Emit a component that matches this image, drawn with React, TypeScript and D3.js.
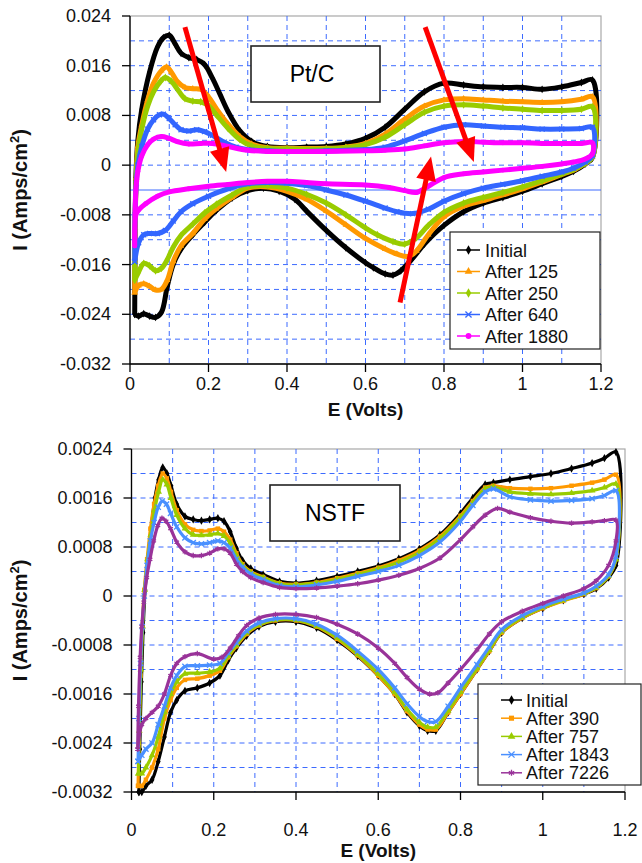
import React from "react";
import * as d3 from "d3";

type Pt = [number, number];

// ---------- Pt/C (top) data : [E (V), I (A/cm2)] ----------
const ptcInitialUp: Pt[] = [[0.012,-0.024],[0.013,-0.012],[0.015,-0.002],[0.02,0.004],[0.03,0.009],[0.05,0.015],[0.07,0.019],[0.085,0.0205],[0.1,0.0209],[0.115,0.0195],[0.13,0.018],[0.15,0.0173],[0.17,0.017],[0.19,0.0162],[0.21,0.014],[0.23,0.0113],[0.25,0.0086],[0.28,0.0055],[0.31,0.0038],[0.35,0.003],[0.4,0.0028],[0.45,0.0029],[0.5,0.003],[0.55,0.0034],[0.6,0.0043],[0.65,0.0061],[0.7,0.009],[0.75,0.0118],[0.8,0.0132],[0.85,0.0129],[0.9,0.0126],[0.95,0.0125],[1.0,0.0125],[1.05,0.0122],[1.1,0.0126],[1.15,0.0133],[1.178,0.0137]];
const ptcInitialDown: Pt[] = [[1.178,0.0012],[1.16,0.0002],[1.13,-0.001],[1.1,-0.0018],[1.05,-0.003],[1.0,-0.0042],[0.95,-0.0052],[0.9,-0.0061],[0.85,-0.0075],[0.8,-0.0097],[0.75,-0.0127],[0.72,-0.015],[0.69,-0.017],[0.67,-0.0177],[0.65,-0.0175],[0.62,-0.0165],[0.6,-0.0157],[0.55,-0.0133],[0.5,-0.0105],[0.45,-0.0074],[0.42,-0.0055],[0.38,-0.0042],[0.34,-0.0037],[0.3,-0.0041],[0.26,-0.0053],[0.22,-0.0073],[0.19,-0.0092],[0.16,-0.0112],[0.13,-0.0135],[0.11,-0.016],[0.095,-0.0195],[0.08,-0.0237],[0.065,-0.0245],[0.05,-0.0243],[0.035,-0.0239],[0.022,-0.0243],[0.012,-0.024]];
const ptc125Up: Pt[] = [[0.012,-0.0205],[0.013,-0.01],[0.016,-0.002],[0.02,0.003],[0.03,0.0065],[0.045,0.0105],[0.06,0.0132],[0.08,0.0152],[0.093,0.0158],[0.105,0.015],[0.12,0.0135],[0.14,0.0125],[0.16,0.0123],[0.18,0.0122],[0.2,0.011],[0.22,0.0091],[0.25,0.0066],[0.28,0.0046],[0.31,0.0034],[0.35,0.0028],[0.4,0.0027],[0.5,0.0027],[0.55,0.0029],[0.6,0.0035],[0.65,0.005],[0.7,0.0074],[0.75,0.0095],[0.8,0.0105],[0.85,0.0107],[0.9,0.0105],[0.95,0.0103],[1.0,0.0102],[1.05,0.0101],[1.1,0.0102],[1.15,0.0106],[1.178,0.011]];
const ptc125Down: Pt[] = [[1.178,0.0013],[1.16,0.0003],[1.13,-0.0008],[1.1,-0.0015],[1.05,-0.0027],[1.0,-0.0038],[0.95,-0.0048],[0.9,-0.0057],[0.85,-0.0066],[0.8,-0.0083],[0.76,-0.0112],[0.73,-0.0138],[0.71,-0.0147],[0.68,-0.0143],[0.65,-0.0135],[0.6,-0.0118],[0.55,-0.0096],[0.5,-0.0074],[0.45,-0.0055],[0.4,-0.0042],[0.35,-0.0035],[0.3,-0.0037],[0.26,-0.0052],[0.22,-0.007],[0.19,-0.0087],[0.16,-0.011],[0.13,-0.013],[0.11,-0.0155],[0.095,-0.0185],[0.08,-0.02],[0.065,-0.0201],[0.05,-0.0195],[0.035,-0.0191],[0.022,-0.0194],[0.012,-0.0205]];
const ptc250Up: Pt[] = [[0.012,-0.0185],[0.013,-0.009],[0.016,-0.002],[0.02,0.002],[0.03,0.0058],[0.045,0.0095],[0.06,0.0118],[0.078,0.0135],[0.09,0.0141],[0.105,0.0135],[0.12,0.0123],[0.14,0.0107],[0.16,0.0103],[0.18,0.0102],[0.2,0.0096],[0.22,0.0081],[0.25,0.0059],[0.28,0.0041],[0.31,0.0031],[0.35,0.0027],[0.4,0.0026],[0.5,0.0026],[0.55,0.0028],[0.6,0.0033],[0.65,0.0045],[0.7,0.0065],[0.75,0.0085],[0.8,0.0095],[0.85,0.0097],[0.9,0.0095],[0.95,0.0092],[1.0,0.009],[1.05,0.0088],[1.1,0.0088],[1.15,0.009],[1.178,0.0094]];
const ptc250Down: Pt[] = [[1.178,0.0013],[1.16,0.0003],[1.13,-0.0007],[1.1,-0.0014],[1.05,-0.0025],[1.0,-0.0035],[0.95,-0.0044],[0.9,-0.0052],[0.85,-0.0061],[0.8,-0.0076],[0.76,-0.0097],[0.73,-0.0117],[0.7,-0.0127],[0.67,-0.0123],[0.63,-0.0112],[0.6,-0.0101],[0.55,-0.008],[0.5,-0.0061],[0.45,-0.0047],[0.4,-0.0037],[0.35,-0.0033],[0.3,-0.0035],[0.26,-0.0048],[0.22,-0.0063],[0.19,-0.0077],[0.16,-0.0095],[0.13,-0.0113],[0.11,-0.0132],[0.095,-0.0152],[0.08,-0.0166],[0.065,-0.017],[0.05,-0.0162],[0.035,-0.0158],[0.022,-0.0172],[0.012,-0.0185]];
const ptc640Up: Pt[] = [[0.012,-0.0155],[0.013,-0.008],[0.016,-0.003],[0.02,0.0],[0.03,0.003],[0.045,0.0058],[0.06,0.0073],[0.075,0.0081],[0.085,0.0082],[0.1,0.0075],[0.115,0.0065],[0.13,0.0057],[0.15,0.0055],[0.17,0.0057],[0.19,0.0054],[0.21,0.0048],[0.24,0.0037],[0.27,0.0029],[0.3,0.0025],[0.35,0.0023],[0.4,0.0022],[0.5,0.0023],[0.6,0.0025],[0.65,0.0029],[0.7,0.0039],[0.75,0.0051],[0.8,0.0061],[0.85,0.0065],[0.9,0.0063],[0.95,0.0061],[1.0,0.006],[1.05,0.0058],[1.1,0.0058],[1.15,0.0059],[1.178,0.0061]];
const ptc640Down: Pt[] = [[1.178,0.0015],[1.16,0.0005],[1.13,-0.0005],[1.1,-0.0011],[1.05,-0.0018],[1.0,-0.0025],[0.95,-0.0031],[0.9,-0.0037],[0.85,-0.0046],[0.8,-0.0058],[0.76,-0.0071],[0.72,-0.0078],[0.68,-0.0075],[0.65,-0.0069],[0.6,-0.0058],[0.55,-0.0048],[0.5,-0.004],[0.45,-0.0033],[0.4,-0.0029],[0.35,-0.0028],[0.3,-0.003],[0.25,-0.0038],[0.2,-0.005],[0.16,-0.0062],[0.13,-0.0075],[0.11,-0.009],[0.09,-0.0105],[0.07,-0.011],[0.05,-0.011],[0.035,-0.0112],[0.022,-0.0125],[0.012,-0.0155]];
const ptc1880Up: Pt[] = [[0.012,-0.013],[0.013,-0.008],[0.015,-0.004],[0.02,-0.001],[0.03,0.0015],[0.045,0.0033],[0.06,0.0042],[0.08,0.0046],[0.1,0.0043],[0.12,0.0038],[0.15,0.0034],[0.18,0.0035],[0.21,0.0035],[0.25,0.003],[0.3,0.0024],[0.35,0.0022],[0.4,0.0022],[0.5,0.0022],[0.6,0.0023],[0.65,0.0024],[0.7,0.0026],[0.75,0.0031],[0.8,0.0036],[0.85,0.0038],[0.9,0.0037],[0.95,0.0036],[1.0,0.0036],[1.05,0.0035],[1.1,0.0035],[1.15,0.0035],[1.178,0.0036]];
const ptc1880Down: Pt[] = [[1.178,0.0018],[1.16,0.001],[1.13,0.0005],[1.1,0.0002],[1.05,-0.0002],[1.0,-0.0005],[0.95,-0.0008],[0.9,-0.0011],[0.85,-0.0014],[0.8,-0.002],[0.76,-0.0034],[0.73,-0.0044],[0.7,-0.0041],[0.66,-0.0036],[0.6,-0.0032],[0.5,-0.003],[0.45,-0.0028],[0.4,-0.0026],[0.35,-0.0026],[0.3,-0.0028],[0.25,-0.0031],[0.2,-0.0034],[0.15,-0.0038],[0.1,-0.0043],[0.07,-0.005],[0.04,-0.0062],[0.022,-0.0072],[0.015,-0.008],[0.012,-0.013]];

// ---------- NSTF (bottom) data ----------
const nstfInitialUp: Pt[] = [[0.018,-0.0032],[0.02,-0.0025],[0.024,-0.0014],[0.028,-0.0006],[0.033,0.0001],[0.04,0.0006],[0.048,0.0011],[0.057,0.0016],[0.066,0.0019],[0.076,0.0021],[0.086,0.002],[0.096,0.0018],[0.11,0.0015],[0.13,0.0013],[0.15,0.00125],[0.17,0.00123],[0.19,0.00125],[0.21,0.00127],[0.225,0.00122],[0.24,0.00105],[0.255,0.00078],[0.27,0.00058],[0.29,0.00045],[0.32,0.00035],[0.36,0.00024],[0.4,0.00021],[0.45,0.00025],[0.5,0.00032],[0.55,0.0004],[0.6,0.00049],[0.65,0.00061],[0.7,0.00077],[0.75,0.001],[0.8,0.00135],[0.83,0.0016],[0.86,0.00182],[0.88,0.00185],[0.92,0.0019],[0.97,0.00195],[1.02,0.002],[1.07,0.00208],[1.12,0.00217],[1.15,0.00225],[1.178,0.00235]];
const nstfInitialDown: Pt[] = [[1.178,0.0005],[1.16,0.0003],[1.13,0.00012],[1.1,0.00003],[1.05,-0.00007],[1.0,-0.0002],[0.95,-0.00036],[0.9,-0.0006],[0.87,-0.0009],[0.84,-0.0012],[0.8,-0.0016],[0.77,-0.0019],[0.74,-0.0022],[0.72,-0.0022],[0.7,-0.00212],[0.67,-0.0019],[0.64,-0.0016],[0.6,-0.0013],[0.55,-0.00098],[0.5,-0.00072],[0.45,-0.00052],[0.4,-0.00042],[0.35,-0.00042],[0.31,-0.0005],[0.28,-0.00065],[0.255,-0.00085],[0.235,-0.00105],[0.215,-0.0013],[0.19,-0.00142],[0.16,-0.0015],[0.13,-0.00155],[0.11,-0.0017],[0.095,-0.0019],[0.08,-0.0023],[0.065,-0.0027],[0.05,-0.003],[0.035,-0.0031],[0.025,-0.0032],[0.018,-0.0032]];
const nstf390Up: Pt[] = [[0.016,-0.0031],[0.018,-0.0024],[0.022,-0.0013],[0.026,-0.0005],[0.031,0.0001],[0.038,0.0006],[0.046,0.0011],[0.055,0.0015],[0.065,0.0018],[0.076,0.002],[0.086,0.00192],[0.096,0.0017],[0.11,0.0014],[0.13,0.00117],[0.15,0.00108],[0.17,0.00106],[0.19,0.00107],[0.21,0.0011],[0.225,0.00105],[0.24,0.00092],[0.255,0.0007],[0.27,0.00052],[0.29,0.0004],[0.32,0.00031],[0.36,0.00021],[0.4,0.00019],[0.45,0.00022],[0.5,0.00029],[0.55,0.00037],[0.6,0.00046],[0.65,0.00058],[0.7,0.00074],[0.75,0.00097],[0.8,0.00131],[0.83,0.00155],[0.86,0.00177],[0.88,0.0018],[0.92,0.00176],[0.97,0.00175],[1.02,0.00176],[1.07,0.0018],[1.12,0.00185],[1.15,0.0019],[1.178,0.00198]];
const nstf390Down: Pt[] = [[1.178,0.0006],[1.16,0.00032],[1.13,0.00013],[1.1,0.00003],[1.05,-0.00008],[1.0,-0.0002],[0.95,-0.00036],[0.9,-0.0006],[0.87,-0.0009],[0.84,-0.0012],[0.8,-0.0016],[0.77,-0.0019],[0.74,-0.00218],[0.72,-0.00218],[0.7,-0.0021],[0.67,-0.00188],[0.64,-0.0016],[0.6,-0.0013],[0.55,-0.00097],[0.5,-0.0007],[0.45,-0.0005],[0.4,-0.0004],[0.35,-0.0004],[0.31,-0.00048],[0.28,-0.00062],[0.255,-0.00082],[0.235,-0.001],[0.215,-0.00122],[0.19,-0.0013],[0.16,-0.00135],[0.13,-0.00137],[0.11,-0.0015],[0.095,-0.0017],[0.08,-0.002],[0.065,-0.0025],[0.05,-0.0028],[0.035,-0.003],[0.025,-0.0031],[0.016,-0.0031]];
const nstf757Up: Pt[] = [[0.017,-0.0029],[0.019,-0.0022],[0.023,-0.0012],[0.027,-0.0005],[0.032,0.0001],[0.039,0.0006],[0.047,0.001],[0.056,0.0014],[0.066,0.0017],[0.076,0.0019],[0.086,0.00182],[0.096,0.0016],[0.11,0.00132],[0.13,0.0011],[0.15,0.001],[0.17,0.00099],[0.19,0.001],[0.21,0.00102],[0.225,0.00098],[0.24,0.00086],[0.255,0.00066],[0.27,0.0005],[0.29,0.00038],[0.32,0.0003],[0.36,0.0002],[0.4,0.00018],[0.45,0.00021],[0.5,0.00027],[0.55,0.00035],[0.6,0.00044],[0.65,0.00055],[0.7,0.00071],[0.75,0.00094],[0.8,0.00128],[0.83,0.00152],[0.86,0.00175],[0.88,0.00178],[0.92,0.0017],[0.97,0.00167],[1.02,0.00166],[1.07,0.00168],[1.12,0.00172],[1.15,0.00177],[1.178,0.00183]];
const nstf757Down: Pt[] = [[1.178,0.0006],[1.16,0.00033],[1.13,0.00014],[1.1,0.00004],[1.05,-0.00007],[1.0,-0.00019],[0.95,-0.00035],[0.9,-0.00058],[0.87,-0.00088],[0.84,-0.00118],[0.8,-0.00157],[0.77,-0.00187],[0.74,-0.00214],[0.72,-0.00214],[0.7,-0.00206],[0.67,-0.00185],[0.64,-0.00157],[0.6,-0.00127],[0.55,-0.00095],[0.5,-0.00068],[0.45,-0.00049],[0.4,-0.00039],[0.35,-0.00039],[0.31,-0.00047],[0.28,-0.0006],[0.255,-0.0008],[0.235,-0.00098],[0.215,-0.00118],[0.19,-0.00124],[0.16,-0.00126],[0.13,-0.00127],[0.11,-0.0014],[0.095,-0.0016],[0.08,-0.0019],[0.065,-0.0023],[0.05,-0.0026],[0.035,-0.0028],[0.025,-0.0029],[0.017,-0.0029]];
const nstf1843Up: Pt[] = [[0.016,-0.0027],[0.018,-0.002],[0.022,-0.0011],[0.026,-0.0005],[0.031,0.0],[0.038,0.0005],[0.046,0.0009],[0.055,0.0012],[0.065,0.00145],[0.075,0.00155],[0.085,0.0015],[0.095,0.00135],[0.11,0.00113],[0.13,0.00095],[0.15,0.00087],[0.17,0.00085],[0.19,0.00087],[0.21,0.0009],[0.225,0.00087],[0.24,0.00078],[0.255,0.0006],[0.27,0.00047],[0.29,0.00036],[0.32,0.00027],[0.36,0.00017],[0.4,0.00015],[0.45,0.00018],[0.5,0.00024],[0.55,0.00032],[0.6,0.0004],[0.65,0.0005],[0.7,0.00066],[0.75,0.00088],[0.8,0.00122],[0.83,0.00148],[0.86,0.0017],[0.88,0.00175],[0.92,0.00162],[0.97,0.00157],[1.02,0.00155],[1.07,0.00156],[1.12,0.00159],[1.15,0.00164],[1.178,0.00172]];
const nstf1843Down: Pt[] = [[1.178,0.00065],[1.16,0.00035],[1.13,0.00016],[1.1,0.00005],[1.05,-0.00005],[1.0,-0.00017],[0.95,-0.00032],[0.9,-0.00055],[0.87,-0.00083],[0.84,-0.00112],[0.8,-0.0015],[0.77,-0.0018],[0.74,-0.00205],[0.72,-0.00205],[0.7,-0.00197],[0.67,-0.00176],[0.64,-0.0015],[0.6,-0.0012],[0.55,-0.0009],[0.5,-0.00064],[0.45,-0.00046],[0.4,-0.00037],[0.35,-0.00037],[0.31,-0.00044],[0.28,-0.00057],[0.255,-0.00076],[0.235,-0.00093],[0.215,-0.0011],[0.19,-0.00113],[0.16,-0.00114],[0.13,-0.00115],[0.11,-0.0013],[0.095,-0.0015],[0.08,-0.0018],[0.065,-0.0021],[0.05,-0.0024],[0.035,-0.0025],[0.025,-0.0026],[0.016,-0.0027]];
const nstf7226Up: Pt[] = [[0.015,-0.0025],[0.017,-0.0018],[0.021,-0.001],[0.025,-0.0005],[0.03,-0.0001],[0.037,0.0003],[0.045,0.0006],[0.054,0.0009],[0.064,0.00115],[0.074,0.00127],[0.084,0.00122],[0.095,0.0011],[0.11,0.00088],[0.13,0.00072],[0.15,0.00066],[0.17,0.00066],[0.19,0.0007],[0.21,0.00077],[0.225,0.00077],[0.24,0.0007],[0.255,0.00052],[0.27,0.0004],[0.29,0.0003],[0.32,0.00022],[0.36,0.00014],[0.4,0.00012],[0.45,0.00013],[0.5,0.00016],[0.55,0.0002],[0.6,0.00026],[0.65,0.00034],[0.7,0.00045],[0.75,0.00062],[0.8,0.00092],[0.83,0.00113],[0.86,0.00132],[0.89,0.00143],[0.92,0.00137],[0.97,0.00128],[1.02,0.00122],[1.07,0.00119],[1.12,0.00121],[1.15,0.00123],[1.178,0.00124]];
const nstf7226Down: Pt[] = [[1.178,0.0009],[1.16,0.0005],[1.13,0.00025],[1.1,0.00012],[1.05,0.0],[1.0,-0.00012],[0.95,-0.00025],[0.9,-0.00042],[0.87,-0.00062],[0.84,-0.00088],[0.8,-0.0012],[0.77,-0.00142],[0.745,-0.00158],[0.725,-0.0016],[0.7,-0.00152],[0.67,-0.00133],[0.64,-0.0011],[0.6,-0.00085],[0.55,-0.00062],[0.5,-0.00046],[0.45,-0.00035],[0.4,-0.0003],[0.35,-0.0003],[0.31,-0.00036],[0.28,-0.00048],[0.26,-0.00065],[0.24,-0.00085],[0.22,-0.001],[0.2,-0.00103],[0.16,-0.00094],[0.13,-0.00099],[0.11,-0.0011],[0.095,-0.0013],[0.08,-0.0016],[0.065,-0.0018],[0.05,-0.0019],[0.035,-0.002],[0.025,-0.0021],[0.015,-0.0025]];

// ---------- labels / ticks ----------
const xTicks = [0, 0.2, 0.4, 0.6, 0.8, 1.0, 1.2];
const xTickLabels = ["0", "0.2", "0.4", "0.6", "0.8", "1", "1.2"];
const ptcYTicks = [0.024, 0.016, 0.008, 0, -0.008, -0.016, -0.024, -0.032];
const ptcYTickLabels = ["0.024", "0.016", "0.008", "0", "-0.008", "-0.016", "-0.024", "-0.032"];
const nstfYTicks = [0.0024, 0.0016, 0.0008, 0, -0.0008, -0.0016, -0.0024, -0.0032];
const nstfYTickLabels = ["0.0024", "0.0016", "0.0008", "0", "-0.0008", "-0.0016", "-0.0024", "-0.0032"];
const ptcNames = ["Initial", "After 125", "After 250", "After 640", "After 1880"];
const nstfNames = ["Initial", "After 390", "After 757", "After 1843", "After 7226"];
// red arrows on Pt/C panel: [E0, I0, E1, I1]
const ptcArrows: [number, number, number, number][] = [
  [0.14, 0.0222, 0.245, -0.0011],
  [0.752, 0.0222, 0.876, 0.0005],
  [0.688, -0.0221, 0.767, 0.0014],
];

type Series = { name: string; color: string; marker: string; up: Pt[]; down: Pt[] };

const ptcSeries: Series[] = [
  { name: ptcNames[0], color: "#000000", marker: "diamond", up: ptcInitialUp, down: ptcInitialDown },
  { name: ptcNames[1], color: "#FF9900", marker: "triangle", up: ptc125Up, down: ptc125Down },
  { name: ptcNames[2], color: "#99CC00", marker: "diamond", up: ptc250Up, down: ptc250Down },
  { name: ptcNames[3], color: "#3366FF", marker: "x", up: ptc640Up, down: ptc640Down },
  { name: ptcNames[4], color: "#FF00FF", marker: "circle", up: ptc1880Up, down: ptc1880Down },
];
const nstfSeries: Series[] = [
  { name: nstfNames[0], color: "#000000", marker: "diamond", up: nstfInitialUp, down: nstfInitialDown },
  { name: nstfNames[1], color: "#FF9900", marker: "square", up: nstf390Up, down: nstf390Down },
  { name: nstfNames[2], color: "#99CC00", marker: "triangle", up: nstf757Up, down: nstf757Down },
  { name: nstfNames[3], color: "#4A90FF", marker: "x", up: nstf1843Up, down: nstf1843Down },
  { name: nstfNames[4], color: "#993399", marker: "star", up: nstf7226Up, down: nstf7226Down },
];

const FONT = "'Liberation Sans', Arial, sans-serif";
const GRID = "#3D6BFF";

function Marker({ type, x, y, color, size }: { type: string; x: number; y: number; color: string; size: number }) {
  const map: Record<string, any> = {
    diamond: d3.symbolDiamond,
    triangle: d3.symbolTriangle,
    square: d3.symbolSquare,
    circle: d3.symbolCircle,
    x: d3.symbolTimes,
    star: d3.symbolAsterisk,
  };
  const d = d3.symbol().type(map[type]).size(size)() || "";
  const stroked = type === "x" || type === "star";
  return (
    <path
      d={d}
      transform={`translate(${x},${y})`}
      fill={stroked ? "none" : color}
      stroke={stroked ? color : "none"}
      strokeWidth={stroked ? 1.3 : 0}
    />
  );
}

type ChartProps = {
  x0: number; x1: number; y0: number; y1: number;
  yDomain: [number, number];
  yTicks: number[]; yTickLabels: string[];
  gridStep: number;
  solidY?: number;
  series: Series[];
  lineWidth: number;
  markerSize: number;
  xLabelBase: number; xTitleBase: number;
  legend: { x: number; y: number; w: number; h: number; row0: number; step: number; lx0: number; lx1: number; tx: number };
  box: { x: number; y: number; w: number; h: number; label: string; tx: number };
  arrows?: [number, number, number, number][];
};

function Chart(p: ChartProps) {
  const xs = d3.scaleLinear().domain([0, 1.2]).range([p.x0, p.x1]);
  const ys = d3.scaleLinear().domain(p.yDomain).range([p.y1, p.y0]);
  const line = d3
    .line<Pt>()
    .x((d) => xs(d[0]))
    .y((d) => ys(d[1]))
    .curve(d3.curveCatmullRom.alpha(0.5));

  const vGrid = d3.range(1, 12).map((i) => i * 0.1);
  const nH = Math.round((p.yDomain[1] - p.yDomain[0]) / p.gridStep);
  const hGrid = d3.range(1, nH).map((i) => p.yDomain[0] + i * p.gridStep);

  return (
    <g>
      <rect x={p.x0} y={p.y0} width={p.x1 - p.x0} height={p.y1 - p.y0} fill="#fff" stroke="#A8A8A8" strokeWidth={1.2} />
      {vGrid.map((v, i) => (
        <line key={"v" + i} x1={xs(v)} x2={xs(v)} y1={p.y0} y2={p.y1} stroke={GRID} strokeWidth={1} strokeDasharray="5,4" />
      ))}
      {hGrid.map((v, i) => {
        const solid = p.solidY !== undefined && Math.abs(v - p.solidY) < p.gridStep / 10;
        return (
          <line key={"h" + i} x1={p.x0} x2={p.x1} y1={ys(v)} y2={ys(v)} stroke={GRID} strokeWidth={1} strokeDasharray={solid ? undefined : "5,4"} />
        );
      })}
      {/* axes */}
      <line x1={p.x0} x2={p.x0} y1={p.y0} y2={p.y1} stroke="#000" strokeWidth={1.3} />
      <line x1={p.x0} x2={p.x1} y1={p.y1} y2={p.y1} stroke="#000" strokeWidth={1.3} />
      {p.yTicks.map((t, i) => (
        <g key={"yt" + i}>
          <line x1={p.x0 - 8} x2={p.x0} y1={ys(t)} y2={ys(t)} stroke="#000" strokeWidth={1.3} />
          <text x={p.x0 - 19} y={ys(t) + 6} textAnchor="end" fontFamily={FONT} fontSize={18} fill="#111">
            {p.yTickLabels[i]}
          </text>
        </g>
      ))}
      {xTicks.map((t, i) => (
        <g key={"xt" + i}>
          <line x1={xs(t)} x2={xs(t)} y1={p.y1} y2={p.y1 + 8} stroke="#000" strokeWidth={1.3} />
          <text x={xs(t)} y={p.xLabelBase} textAnchor="middle" fontFamily={FONT} fontSize={18} fill="#111">
            {xTickLabels[i]}
          </text>
        </g>
      ))}
      <text x={(p.x0 + p.x1) / 2} y={p.xTitleBase} textAnchor="middle" fontFamily={FONT} fontSize={19} fontWeight="bold" fill="#111">
        E (Volts)
      </text>
      <text
        transform={`translate(27,${(p.y0 + p.y1) / 2}) rotate(-90)`}
        textAnchor="middle"
        fontFamily={FONT}
        fontSize={20}
        fontWeight="bold"
        fill="#111"
      >
        I (Amps/cm<tspan fontSize={13} dy={-8}>2</tspan>
        <tspan dy={8}>)</tspan>
      </text>

      {/* series */}
      {p.series.map((s, si) => {
        const pts = [...s.up, ...s.down];
        return (
          <g key={"s" + si}>
            <path d={line(pts) || ""} fill="none" stroke={s.color} strokeWidth={p.lineWidth} strokeLinejoin="round" />
            {pts.map((d, i) => (
              <Marker key={i} type={s.marker} x={xs(d[0])} y={ys(d[1])} color={s.color} size={p.markerSize} />
            ))}
          </g>
        );
      })}

      {/* title box */}
      <rect x={p.box.x} y={p.box.y} width={p.box.w} height={p.box.h} fill="#fff" stroke="#222" strokeWidth={1.6} />
      <text x={p.box.tx} y={p.box.y + p.box.h / 2 + 8} textAnchor="middle" fontFamily={FONT} fontSize={23} fill="#000">
        {p.box.label}
      </text>

      {/* arrows */}
      {(p.arrows || []).map((a, i) => {
        const xA = xs(a[0]), yA = ys(a[1]), xB = xs(a[2]), yB = ys(a[3]);
        const dx = xB - xA, dy = yB - yA;
        const len = Math.hypot(dx, dy);
        const ux = dx / len, uy = dy / len;
        const hl = 24, hw = 10;
        const bx = xB - ux * hl, by = yB - uy * hl;
        const pts = `${xB},${yB} ${bx - uy * hw},${by + ux * hw} ${bx + uy * hw},${by - ux * hw}`;
        return (
          <g key={"a" + i}>
            <line x1={xA} y1={yA} x2={bx + ux * 2} y2={by + uy * 2} stroke="#FF0000" strokeWidth={5} />
            <polygon points={pts} fill="#FF0000" />
          </g>
        );
      })}

      {/* legend */}
      <rect x={p.legend.x} y={p.legend.y} width={p.legend.w} height={p.legend.h} fill="#fff" stroke="#222" strokeWidth={1.2} />
      {p.series.map((s, i) => {
        const yy = p.legend.row0 + i * p.legend.step;
        return (
          <g key={"l" + i}>
            <line x1={p.legend.lx0} x2={p.legend.lx1} y1={yy} y2={yy} stroke={s.color} strokeWidth={1.5} />
            <Marker type={s.marker} x={(p.legend.lx0 + p.legend.lx1) / 2} y={yy} color={s.color} size={26} />
            <text x={p.legend.tx} y={yy + 6.5} fontFamily={FONT} fontSize={18} fill="#111">
              {s.name}
            </text>
          </g>
        );
      })}
    </g>
  );
}

export default function App() {
  return (
    <svg width={642} height={863} style={{ position: "absolute", left: 0, top: 0, background: "#fff" }}>
      <rect x={0} y={0} width={642} height={863} fill="#fff" />
      <Chart
        x0={130} x1={601} y0={16} y1={364}
        yDomain={[-0.032, 0.024]}
        yTicks={ptcYTicks} yTickLabels={ptcYTickLabels}
        gridStep={0.004}
        solidY={-0.004}
        series={ptcSeries}
        lineWidth={5}
        markerSize={18}
        xLabelBase={390} xTitleBase={416}
        legend={{ x: 450, y: 232, w: 150, h: 117, row0: 250, step: 21.5, lx0: 457, lx1: 480, tx: 485 }}
        box={{ x: 251, y: 46, w: 129, h: 56, label: "Pt/C", tx: 312 }}
        arrows={ptcArrows}
      />
      <Chart
        x0={131.5} x1={625} y0={449} y1={792}
        yDomain={[-0.0032, 0.0024]}
        yTicks={nstfYTicks} yTickLabels={nstfYTickLabels}
        gridStep={0.0004}
        series={nstfSeries}
        lineWidth={3.2}
        markerSize={20}
        xLabelBase={836} xTitleBase={857}
        legend={{ x: 478, y: 684, w: 163, h: 101, row0: 700, step: 18.2, lx0: 501, lx1: 522, tx: 526 }}
        box={{ x: 270, y: 485, w: 130, h: 56, label: "NSTF", tx: 335 }}
      />
    </svg>
  );
}
